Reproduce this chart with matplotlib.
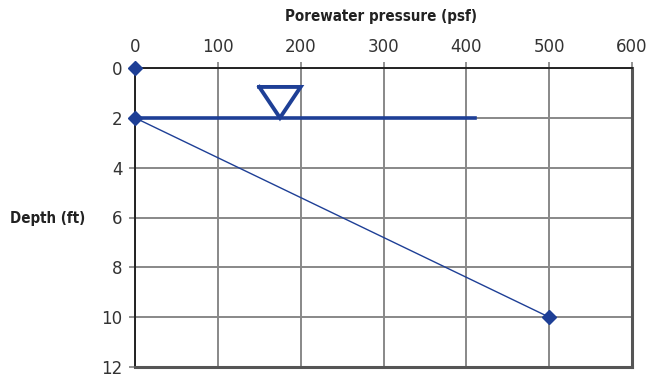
import matplotlib.pyplot as plt

# Data
depth_pts = [0, 2, 10]          # ft
pressure_pts = [0, 0, 500]      # psf
line_x = [0, 500]
line_y = [2, 10]
water_x = [0, 410]
water_y = [2, 2]
tri_x = [150, 200, 175, 150]
tri_y = [0.76, 0.76, 2, 0.76]
xticks = [0, 100, 200, 300, 400, 500, 600]
yticks = [0, 2, 4, 6, 8, 10, 12]

blue = '#1e3f96'
label_font = dict(fontsize=10.8, fontweight='bold', family='DejaVu Sans',
                  fontstretch='condensed', color='#222222')

fig = plt.figure(figsize=(6.54, 3.75), dpi=100)
ax = fig.add_axes([135 / 654, 1 - 367 / 375, 497 / 654, 299 / 375])

ax.plot(water_x, water_y, color=blue, linewidth=2.6, zorder=3)
ax.plot(line_x, line_y, color=blue, linewidth=1.0, zorder=3)
ax.plot(tri_x, tri_y, color=blue, linewidth=2.8, solid_joinstyle='miter', zorder=3)
ax.plot(pressure_pts, depth_pts, 'D', color=blue, markersize=7, linestyle='none',
        clip_on=False, zorder=4)

ax.set_xlim(0, 600)
ax.set_ylim(12, 0)
ax.set_xticks(xticks)
ax.set_yticks(yticks)
ax.xaxis.tick_top()
ax.tick_params(axis='both', length=4, width=1.2, color='#808080',
               labelsize=12, labelcolor='#333333', pad=5)
ax.grid(True, color='#888888', linewidth=1.4)
ax.set_axisbelow(True)

for side in ['top', 'left']:
    ax.spines[side].set_color('#222222')
    ax.spines[side].set_linewidth(1.4)
for side in ['right', 'bottom']:
    ax.spines[side].set_color('#555555')
    ax.spines[side].set_linewidth(2.2)

fig.text(381 / 654, 1 - 16 / 375, 'Porewater pressure (psf)', ha='center', va='center',
         **label_font)
fig.text(48 / 654, 1 - 218 / 375, 'Depth (ft)', ha='center', va='center', **label_font)

fig.savefig('out.png', dpi=100)
